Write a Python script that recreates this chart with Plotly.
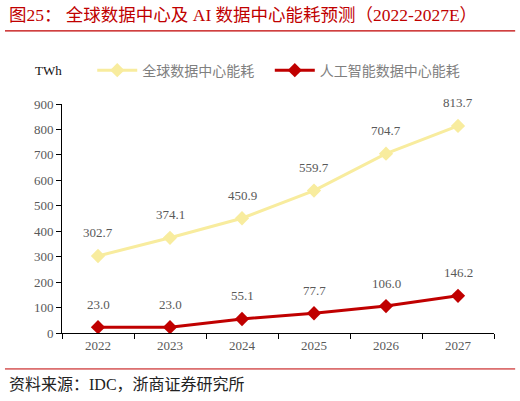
import plotly.graph_objects as go

years = ["2022", "2023", "2024", "2025", "2026", "2027"]
global_dc = [302.7, 374.1, 450.9, 559.7, 704.7, 813.7]
ai_dc = [23.0, 23.0, 55.1, 77.7, 106.0, 146.2]

FONT = "Liberation Serif, Noto Sans CJK SC, serif"
YELLOW = "#F8EC9E"
RED = "#C00000"
GRAY = "#595959"

fig = go.Figure()
fig.add_trace(go.Scatter(x=years, y=global_dc, name="全球数据中心能耗", mode="lines+markers",
                         line=dict(color=YELLOW, width=3),
                         marker=dict(symbol="diamond", size=11, color=YELLOW), legend="legend"))
fig.add_trace(go.Scatter(x=years, y=ai_dc, name="人工智能数据中心能耗", mode="lines+markers",
                         line=dict(color=RED, width=3),
                         marker=dict(symbol="diamond", size=11, color=RED), legend="legend2"))

# value labels above the points (x given as category index)
for series in (global_dc, ai_dc):
    for i, v in enumerate(series):
        fig.add_annotation(x=i, y=v, text=f"{v:.1f}", showarrow=False, yshift=23,
                           font=dict(family=FONT, size=13, color=GRAY))

fig.add_annotation(xref="paper", yref="paper", x=-0.127, y=1.389,
                   text="图25： 全球数据中心及 AI 数据中心能耗预测（2022-2027E）",
                   showarrow=False, xanchor="left", yanchor="middle",
                   font=dict(family=FONT, size=17.5, color=RED))
fig.add_annotation(xref="paper", yref="paper", x=-0.127, y=-0.227, text="资料来源：IDC，浙商证券研究所",
                   showarrow=False, xanchor="left", yanchor="middle",
                   font=dict(family=FONT, size=16, color="#222222"))
fig.add_annotation(xref="paper", yref="paper", x=-0.032, y=1.146, text="TWh", showarrow=False,
                   xanchor="center", yanchor="middle", font=dict(family=FONT, size=13, color="#111111"))

legend_style = dict(orientation="h", y=1.146, xanchor="left", yanchor="middle",
                    font=dict(family=FONT, size=14, color="#7F7F7F"), itemwidth=40,
                    bgcolor="rgba(0,0,0,0)")

fig.update_layout(
    width=520, height=401,
    margin=dict(l=62, r=26, t=104, b=68),
    paper_bgcolor="white", plot_bgcolor="white",
    font=dict(family=FONT, size=13, color=GRAY),
    showlegend=True,
    legend=dict(x=0.07, **legend_style),
    legend2=dict(x=0.481, **legend_style),
    shapes=[
        dict(type="line", xref="paper", yref="paper", x0=-0.132, x1=1.049, y0=1.319, y1=1.319,
             line=dict(color=RED, width=1.2)),
        dict(type="line", xref="paper", yref="paper", x0=-0.132, x1=1.049, y0=-0.157, y1=-0.157,
             line=dict(color=RED, width=1)),
    ],
)
fig.update_xaxes(type="category", range=[-0.5, 5.5], showline=True, linecolor="black", linewidth=1,
                 ticks="outside", tickson="boundaries", ticklen=5, tickcolor="black",
                 showgrid=False, tickfont=dict(family=FONT, size=13, color=GRAY))
fig.update_yaxes(range=[0, 900], dtick=100, showline=True, linecolor="black", linewidth=1,
                 ticks="outside", ticklen=5, tickcolor="black", showgrid=False, zeroline=False,
                 tickfont=dict(family=FONT, size=13, color=GRAY))

fig.write_html("out.html", config={"displayModeBar": False},
               post_script="document.body.style.margin='0';")
